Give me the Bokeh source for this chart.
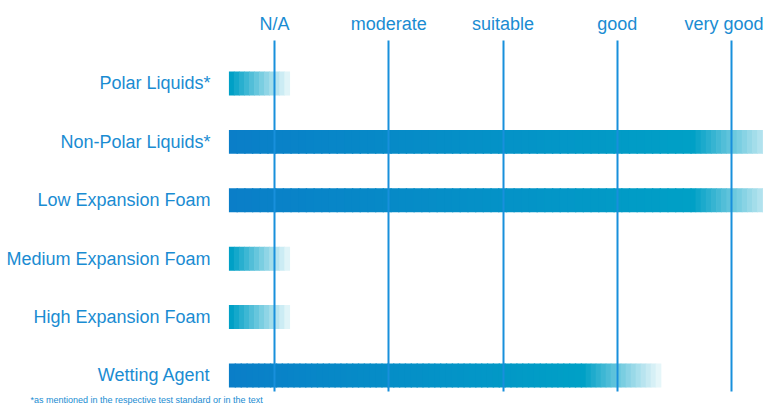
from bokeh.plotting import figure
from bokeh.models import Range1d, FixedTicker, Title, ColumnDataSource
from bokeh.embed import file_html
from bokeh.resources import INLINE
import numpy as np

# ---- data ----
categories = ["Polar Liquids*", "Non-Polar Liquids*", "Low Expansion Foam",
              "Medium Expansion Foam", "High Expansion Foam", "Wetting Agent"]
solid_end = [0.6, 4.64, 4.64, 0.6, 0.6, 3.68]     # where the full-colour part of a bar stops
fade_end = [1.13, 5.45, 5.45, 1.13, 1.13, 4.38]    # where the fade-out to white stops
bar_start = 0.6
ratings = ["N/A", "moderate", "suitable", "good", "very good"]
rating_pos = [1, 2, 3, 4, 5]
footnote = "*as mentioned in the respective test standard or in the text"

TEXT = "#1a8cd2"
LINE = "#1890dc"
DARK = np.array([10, 126, 200])
TEAL = np.array([0, 160, 198])
FONT = "Liberation Sans"

def hexc(c):
    c = np.clip(np.round(c), 0, 255).astype(int)
    return "#%02x%02x%02x" % tuple(c)

n = len(categories)
ypos = [n - 1 - i for i in range(n)]
H = 0.41

left, right, bottom, top, color = [], [], [], [], []
for i in range(n):
    y = ypos[i]
    s0, s1, f1 = bar_start, solid_end[i], fade_end[i]
    if s1 > s0:
        m = 60
        edges = np.linspace(s0, s1, m + 1)
        for k in range(m):
            t = (k + 0.5) / m
            left.append(edges[k]); right.append(edges[k + 1] + 0.012)
            bottom.append(y - H / 2); top.append(y + H / 2)
            color.append(hexc(DARK + (TEAL - DARK) * t))
    steps = max(int(round((f1 - s1) / 0.045)), 1)
    edges = np.linspace(s1, f1, steps + 1)
    for k in range(steps):
        f = 0.96 * k / steps
        left.append(edges[k]); right.append(edges[k + 1] + 0.006)
        bottom.append(y - H / 2); top.append(y + H / 2)
        color.append(hexc(TEAL + (255 - TEAL) * f))

src = ColumnDataSource(dict(left=left, right=right, bottom=bottom, top=top, color=color))

x0, x1 = 0.597, 5.28
y0, y1 = -0.274, 5.736
p = figure(width=763, height=407, output_backend="svg", toolbar_location=None,
           x_range=Range1d(x0, x1), y_range=Range1d(y0, y1),
           x_axis_location="above", min_border_left=228, min_border_right=0,
           min_border_top=40, min_border_bottom=16)
p.outline_line_color = None
p.background_fill_color = "white"
p.border_fill_color = "white"

p.quad(left="left", right="right", bottom="bottom", top="top", fill_color="color",
       line_color=None, source=src)

# vertical rating lines
p.ygrid.visible = False
p.xgrid.ticker = FixedTicker(ticks=rating_pos)
p.xgrid.grid_line_color = LINE
p.xgrid.grid_line_width = 2
p.xgrid.level = "overlay"

# top axis: ratings
xa = p.xaxis[0]
xa.ticker = FixedTicker(ticks=rating_pos)
xa.major_label_overrides = {pos: lab for pos, lab in zip(rating_pos, ratings)}
xa.axis_line_color = None
xa.major_tick_line_color = None
xa.minor_tick_line_color = None
xa.major_tick_out = 0
xa.major_label_standoff = 7
xa.major_label_text_font = FONT
xa.major_label_text_font_size = "18px"
xa.major_label_text_color = TEXT

# left axis: categories
ya = p.yaxis[0]
ya.ticker = FixedTicker(ticks=ypos)
ya.major_label_overrides = {y: c for y, c in zip(ypos, categories)}
ya.axis_line_color = None
ya.major_tick_line_color = None
ya.minor_tick_line_color = None
ya.major_tick_out = 0
ya.major_label_standoff = 18
ya.major_label_text_font = FONT
ya.major_label_text_font_size = "18px"
ya.major_label_text_color = TEXT

# footnote below the frame, shifted left to start near the page edge
p.add_layout(Title(text=footnote, align="left", offset=-198, standoff=3,
                   text_font=FONT, text_font_size="9px", text_font_style="normal",
                   text_color=TEXT), "below")

open("out.html", "w").write(file_html(p, INLINE))
